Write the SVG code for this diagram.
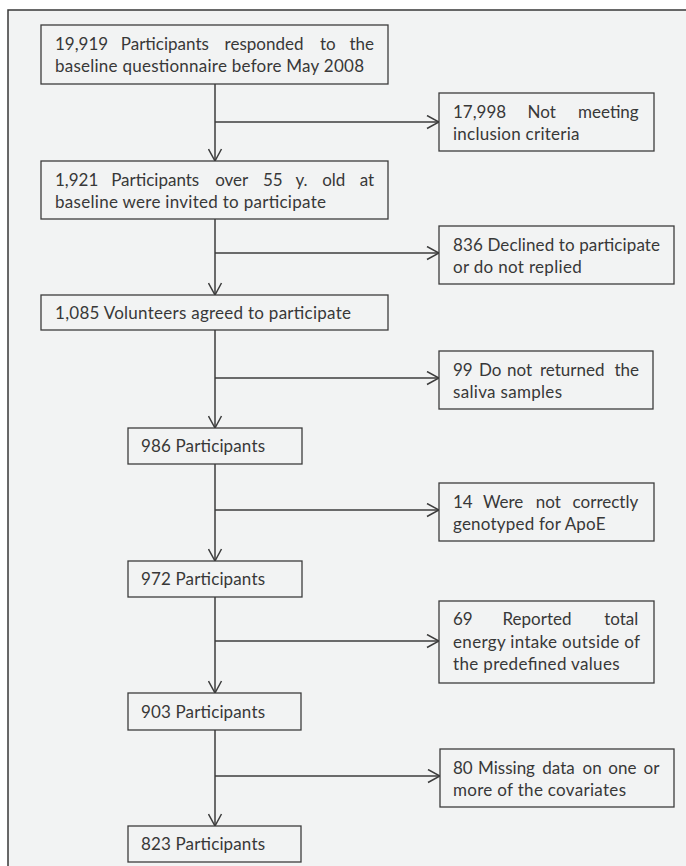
<svg xmlns="http://www.w3.org/2000/svg" width="686" height="866" viewBox="0 0 686 866">
<style>
.bg { fill: #f2f3f3; stroke: #383838; stroke-width: 1.5; }
.box { fill: #f2f3f3; stroke: #3c3c3c; stroke-width: 1.3; }
.t { font-family: Lato, "Liberation Sans", sans-serif; font-size: 17px; fill: #383838; }
.c { stroke: #3c3c3c; stroke-width: 1.5; fill: none; }
</style>
<defs>
<marker id="ah" viewBox="0 0 14 15" refX="13" refY="7.5" markerWidth="14" markerHeight="15" markerUnits="userSpaceOnUse" orient="auto">
<path d="M1,1 L13,7.5 L1,14" fill="none" stroke="#3c3c3c" stroke-width="1.5"/>
</marker>
</defs>
<rect width="686" height="866" fill="#ffffff"/>
<rect class="bg" x="8" y="10" width="700" height="880"/>
<g id="connectors">
<path class="c" d="M215,84 V161" marker-end="url(#ah)"/>
<path class="c" d="M215,122 H439" marker-end="url(#ah)"/>
<path class="c" d="M215,219 V295" marker-end="url(#ah)"/>
<path class="c" d="M215,253 H439" marker-end="url(#ah)"/>
<path class="c" d="M215,330 V428" marker-end="url(#ah)"/>
<path class="c" d="M215,378 H439" marker-end="url(#ah)"/>
<path class="c" d="M215,464 V561" marker-end="url(#ah)"/>
<path class="c" d="M215,510 H439" marker-end="url(#ah)"/>
<path class="c" d="M215,597 V693" marker-end="url(#ah)"/>
<path class="c" d="M215,641 H439" marker-end="url(#ah)"/>
<path class="c" d="M215,730 V826" marker-end="url(#ah)"/>
<path class="c" d="M215,776 H440" marker-end="url(#ah)"/>
</g>
<g id="n1">
<rect class="box" x="41" y="25" width="347" height="59"/>
<text class="t" y="49.5"><tspan x="55">19,919 </tspan><tspan x="120.8">Participants </tspan><tspan x="224.6">responded </tspan><tspan x="320">to </tspan><tspan x="349.5">the</tspan></text>
<text class="t" x="55" y="71.5" textLength="309" lengthAdjust="spacing">baseline questionnaire before May 2008</text>
</g>
<g id="n2">
<rect class="box" x="439" y="93" width="215" height="58"/>
<text class="t" y="117.5"><tspan x="453">17,998 </tspan><tspan x="527.5">Not </tspan><tspan x="578">meeting</tspan></text>
<text class="t" x="453" y="139.5" textLength="126.5" lengthAdjust="spacing">inclusion criteria</text>
</g>
<g id="n3">
<rect class="box" x="41" y="161" width="347" height="58"/>
<text class="t" y="185.5"><tspan x="55">1,921 </tspan><tspan x="111.2">Participants </tspan><tspan x="215.2">over </tspan><tspan x="262.9">55 </tspan><tspan x="295.4">y. </tspan><tspan x="322.2">old </tspan><tspan x="359.7">at</tspan></text>
<text class="t" x="55" y="207.5" textLength="271" lengthAdjust="spacing">baseline were invited to participate</text>
</g>
<g id="n4">
<rect class="box" x="439" y="226" width="235" height="58"/>
<text class="t" x="453" y="250.5" textLength="207" lengthAdjust="spacing">836 Declined to participate</text>
<text class="t" x="453" y="272.5" textLength="128.7" lengthAdjust="spacing">or do not replied</text>
</g>
<g id="n5">
<rect class="box" x="41" y="295" width="347" height="35"/>
<text class="t" x="55" y="319" textLength="296" lengthAdjust="spacing">1,085 Volunteers agreed to participate</text>
</g>
<g id="n6">
<rect class="box" x="439" y="351" width="214" height="58"/>
<text class="t" y="375.5"><tspan x="453">99 </tspan><tspan x="478.9">Do </tspan><tspan x="507.1">not </tspan><tspan x="540">returned </tspan><tspan x="614.5">the</tspan></text>
<text class="t" x="453" y="397.5" textLength="109" lengthAdjust="spacing">saliva samples</text>
</g>
<g id="n7">
<rect class="box" x="128" y="428" width="174" height="36"/>
<text class="t" x="141" y="452" textLength="124" lengthAdjust="spacing">986 Participants</text>
</g>
<g id="n8">
<rect class="box" x="439" y="483" width="215" height="58"/>
<text class="t" y="507.5"><tspan x="453">14 </tspan><tspan x="482.9">Were </tspan><tspan x="535.7">not </tspan><tspan x="572.6">correctly</tspan></text>
<text class="t" x="453" y="529.5" textLength="152.5" lengthAdjust="spacing">genotyped for ApoE</text>
</g>
<g id="n9">
<rect class="box" x="128" y="561" width="174" height="36"/>
<text class="t" x="141" y="585" textLength="124" lengthAdjust="spacing">972 Participants</text>
</g>
<g id="n10">
<rect class="box" x="439" y="601" width="215" height="82"/>
<text class="t" y="625"><tspan x="453">69 </tspan><tspan x="502.5">Reported </tspan><tspan x="604.2">total</tspan></text>
<text class="t" x="453" y="647.5" textLength="187" lengthAdjust="spacing">energy intake outside of</text>
<text class="t" x="453" y="670" textLength="166.6" lengthAdjust="spacing">the predefined values</text>
</g>
<g id="n11">
<rect class="box" x="128" y="693" width="173" height="37"/>
<text class="t" x="141" y="717.5" textLength="124" lengthAdjust="spacing">903 Participants</text>
</g>
<g id="n12">
<rect class="box" x="440" y="749" width="234" height="58"/>
<text class="t" y="773.5"><tspan x="453">80 </tspan><tspan x="478.1">Missing </tspan><tspan x="542.3">data </tspan><tspan x="582.5">on </tspan><tspan x="608.3">one </tspan><tspan x="643.5">or</tspan></text>
<text class="t" x="453" y="795.5" textLength="173" lengthAdjust="spacing">more of the covariates</text>
</g>
<g id="n13">
<rect class="box" x="128" y="826" width="173" height="36"/>
<text class="t" x="141" y="850" textLength="124" lengthAdjust="spacing">823 Participants</text>
</g>
</svg>
